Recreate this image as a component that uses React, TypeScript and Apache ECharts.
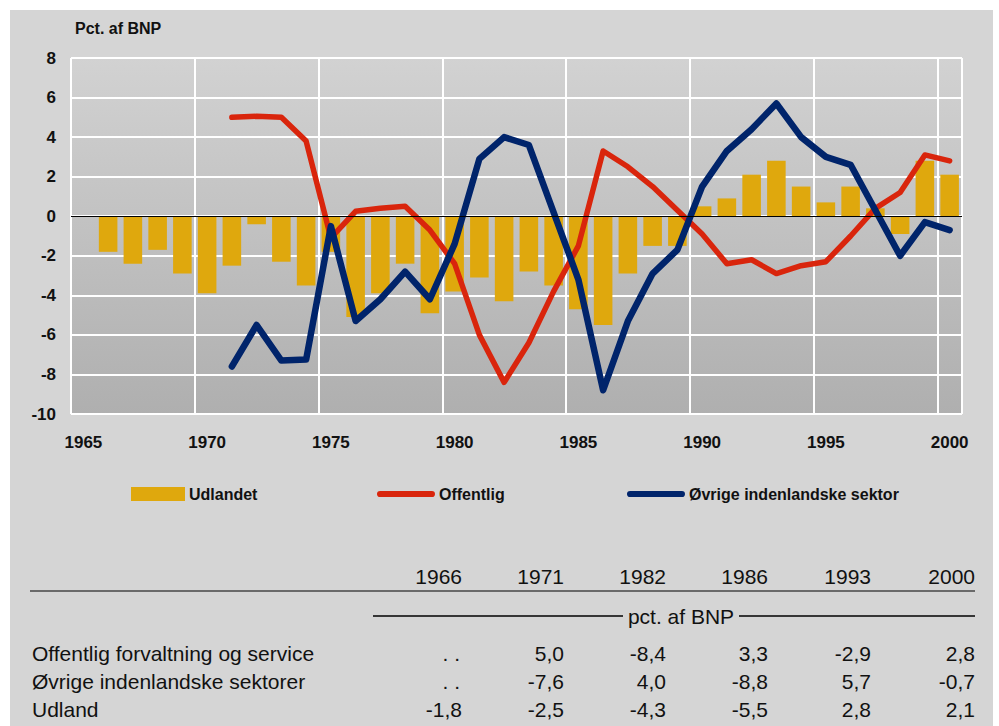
import React, { useEffect, useRef } from "react";
import * as echarts from "echarts";

// ---------- data ----------
const years = [
  "1965", "1966", "1967", "1968", "1969", "1970", "1971", "1972", "1973", "1974",
  "1975", "1976", "1977", "1978", "1979", "1980", "1981", "1982", "1983", "1984",
  "1985", "1986", "1987", "1988", "1989", "1990", "1991", "1992", "1993", "1994",
  "1995", "1996", "1997", "1998", "1999", "2000",
];

const udlandet = [
  null, -1.8, -2.4, -1.7, -2.9, -3.9, -2.5, -0.4, -2.3, -3.5,
  -1.8, -5.1, -3.9, -2.4, -4.9, -3.8, -3.1, -4.3, -2.8, -3.5,
  -4.7, -5.5, -2.9, -1.5, -1.5, 0.5, 0.9, 2.1, 2.8, 1.5,
  0.7, 1.5, 0.4, -0.9, 2.8, 2.1,
];

const offentlig = [
  null, null, null, null, null, null, 5.0, 5.05, 5.0, 3.8,
  -1.1, 0.25, 0.4, 0.5, -0.7, -2.4, -6.0, -8.4, -6.4, -3.8,
  -1.5, 3.3, 2.5, 1.5, 0.3, -0.9, -2.4, -2.2, -2.9, -2.5,
  -2.3, -1.0, 0.4, 1.2, 3.1, 2.8,
];

const oevrige = [
  null, null, null, null, null, null, -7.6, -5.5, -7.3, -7.25,
  -0.5, -5.3, -4.2, -2.8, -4.2, -1.4, 2.9, 4.0, 3.6, 0.2,
  -3.2, -8.8, -5.3, -2.9, -1.7, 1.5, 3.3, 4.4, 5.7, 4.0,
  3.0, 2.6, 0.3, -2.0, -0.3, -0.7,
];

const seriesNames = ["Udlandet", "Offentlig", "Øvrige indenlandske sektor"];
const yAxisTitle = "Pct. af BNP";

const tableYears = ["1966", "1971", "1982", "1986", "1993", "2000"];
const tableRowLabels = [
  "Offentlig forvaltning og service",
  "Øvrige indenlandske sektorer",
  "Udland",
];
const tableUnit = "pct. af BNP";

// ---------- styling ----------
const FONT = "'Liberation Sans', Arial, sans-serif";
const YELLOW = "#dfa80d";
const RED = "#d9250c";
const BLUE = "#00246b";
const INK = "#111111";
const LINE_ICON =
  "path://M3,0 L53,0 A3,3 0 0 1 53,6 L3,6 A3,3 0 0 1 3,0 Z";

export default function App() {
  const ref = useRef<HTMLDivElement>(null);

  useEffect(() => {
    if (!ref.current) return;
    const chart = echarts.init(ref.current, null, { renderer: "svg" });

    const fmt = (v: number | null | undefined) =>
      v == null ? ". ." : v.toFixed(1).replace(".", ",");

    const rowsData = [offentlig, oevrige, udlandet];
    const colRight = [462, 564, 666, 768, 871, 975];
    const rowY = [653, 681, 709];

    const tableFont = `21px ${FONT}`;
    const graphics: any[] = [
      {
        type: "text",
        x: 75,
        y: 28,
        style: {
          text: yAxisTitle,
          font: `bold 16px ${FONT}`,
          fill: INK,
          align: "left",
          verticalAlign: "middle",
        },
      },
      {
        type: "line",
        shape: { x1: 30, y1: 591, x2: 975, y2: 591 },
        style: { stroke: "#000", lineWidth: 1.2 },
      },
      {
        type: "line",
        shape: { x1: 373, y1: 616, x2: 623, y2: 616 },
        style: { stroke: "#000", lineWidth: 1.5 },
      },
      {
        type: "line",
        shape: { x1: 739, y1: 616, x2: 975, y2: 616 },
        style: { stroke: "#000", lineWidth: 1.5 },
      },
      {
        type: "text",
        x: 681,
        y: 616,
        style: {
          text: tableUnit,
          font: tableFont,
          fill: INK,
          align: "center",
          verticalAlign: "middle",
        },
      },
    ];

    tableYears.forEach((yr, ci) => {
      graphics.push({
        type: "text",
        x: colRight[ci],
        y: 576,
        style: {
          text: yr,
          font: tableFont,
          fill: INK,
          align: "right",
          verticalAlign: "middle",
        },
      });
    });

    tableRowLabels.forEach((label, ri) => {
      graphics.push({
        type: "text",
        x: 32,
        y: rowY[ri],
        style: {
          text: label,
          font: tableFont,
          fill: INK,
          align: "left",
          verticalAlign: "middle",
        },
      });
      tableYears.forEach((yr, ci) => {
        const idx = years.indexOf(yr);
        const v = rowsData[ri][idx];
        graphics.push({
          type: "text",
          x: v == null ? colRight[ci] - 2 : colRight[ci],
          y: rowY[ri],
          style: {
            text: fmt(v),
            font: tableFont,
            fill: INK,
            align: "right",
            verticalAlign: "middle",
          },
        });
      });
    });

    const legendText = {
      fontFamily: FONT,
      fontWeight: "bold" as const,
      fontSize: 16,
      color: INK,
      padding: [0, 0, 0, -1],
    };

    const option: any = {
      animation: false,
      backgroundColor: "transparent",
      grid: {
        left: 71,
        right: 37,
        top: 58,
        bottom: 312,
        show: true,
        borderWidth: 0,
        backgroundColor: new echarts.graphic.LinearGradient(0, 0, 0, 1, [
          { offset: 0, color: "#d2d2d2" },
          { offset: 1, color: "#afafaf" },
        ]),
      },
      legend: [
        {
          data: [{ name: seriesNames[0], icon: "rect" }],
          left: 131,
          top: 486,
          padding: 0,
          itemWidth: 54,
          itemHeight: 14,
          textStyle: legendText,
        },
        {
          data: [{ name: seriesNames[1], icon: LINE_ICON }],
          left: 377,
          top: 486,
          padding: 0,
          itemWidth: 58,
          itemHeight: 7,
          textStyle: legendText,
        },
        {
          data: [{ name: seriesNames[2], icon: LINE_ICON }],
          left: 627,
          top: 486,
          padding: 0,
          itemWidth: 58,
          itemHeight: 7,
          textStyle: legendText,
        },
      ],
      xAxis: {
        type: "category",
        data: years,
        boundaryGap: true,
        axisLine: { show: false },
        axisTick: { show: false },
        axisLabel: {
          interval: 4,
          color: INK,
          fontFamily: FONT,
          fontWeight: "bold",
          fontSize: 17,
          margin: 20,
        },
        splitLine: {
          show: true,
          interval: 4,
          lineStyle: { color: "#ffffff", width: 2 },
        },
      },
      yAxis: {
        type: "value",
        min: -10,
        max: 8,
        interval: 2,
        axisLine: { show: false },
        axisTick: { show: false },
        axisLabel: {
          color: INK,
          fontFamily: FONT,
          fontWeight: "bold",
          fontSize: 17,
          margin: 15,
        },
        splitLine: {
          show: true,
          lineStyle: { color: "#ffffff", width: 2 },
        },
      },
      series: [
        {
          name: seriesNames[0],
          type: "bar",
          data: udlandet,
          barWidth: "75%",
          itemStyle: { color: YELLOW },
          z: 2,
          markLine: {
            silent: true,
            symbol: "none",
            label: { show: false },
            lineStyle: { color: "#000", width: 1, type: "solid" },
            data: [{ yAxis: 0 }],
          },
        },
        {
          name: seriesNames[1],
          type: "line",
          data: offentlig,
          symbol: "none",
          connectNulls: false,
          z: 3,
          itemStyle: { color: RED },
          lineStyle: { color: RED, width: 5.5, cap: "round", join: "round" },
        },
        {
          name: seriesNames[2],
          type: "line",
          data: oevrige,
          symbol: "none",
          connectNulls: false,
          z: 4,
          itemStyle: { color: BLUE },
          lineStyle: { color: BLUE, width: 6.5, cap: "round", join: "round" },
        },
      ],
      graphic: graphics,
    };

    chart.setOption(option);
    return () => chart.dispose();
  }, []);

  return (
    <div
      style={{
        position: "absolute",
        left: 0,
        top: 0,
        width: 999,
        height: 726,
        background: "#ffffff",
        overflow: "hidden",
      }}
    >
      <div
        style={{
          position: "absolute",
          left: 10,
          top: 10,
          width: 983,
          height: 716,
          background: "#d5d5d5",
        }}
      />
      <div
        ref={ref}
        style={{ position: "absolute", left: 0, top: 0, width: 999, height: 726 }}
      />
    </div>
  );
}
